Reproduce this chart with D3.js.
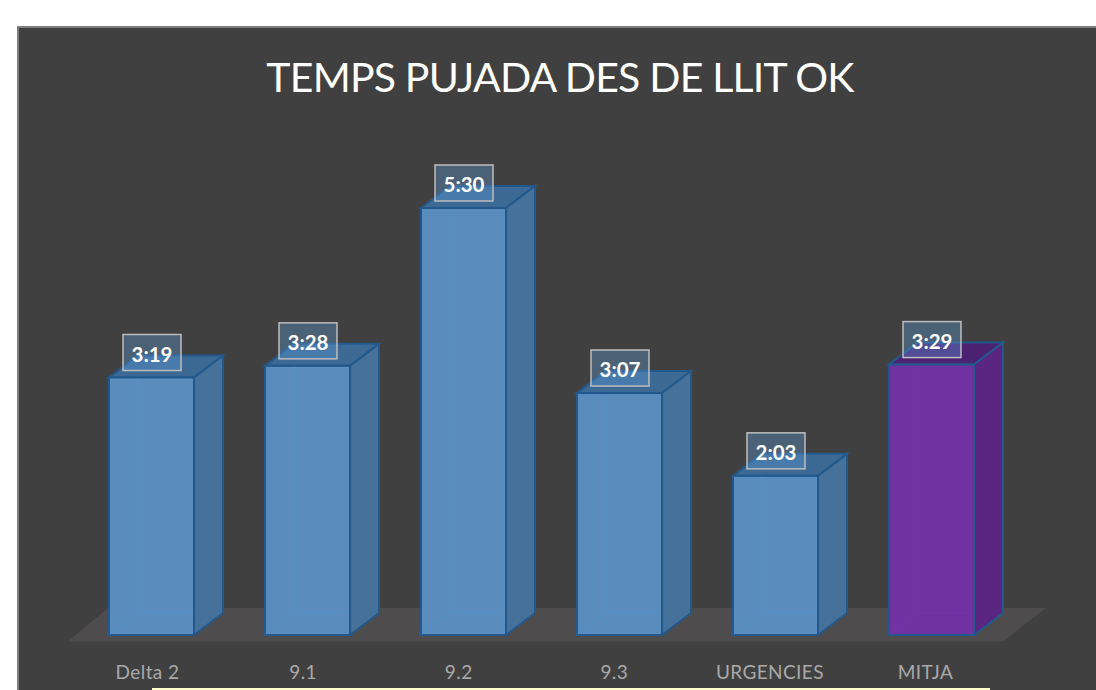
<!DOCTYPE html>
<html><head><meta charset="utf-8">
<script src="https://cdn.jsdelivr.net/npm/d3@7"></script>
<style>html,body{margin:0;padding:0;background:#fff;overflow:hidden}svg{display:block}text{font-family:Lato,"Open Sans",sans-serif}</style>
</head><body><svg id="c" width="1096" height="690"></svg>
<script>
const categories = ["Delta 2","9.1","9.2","9.3","URGENCIES","MITJA"];
const labels = ["3:19","3:28","5:30","3:07","2:03","3:29"];
const seconds = [199,208,330,187,123,209];
const title = "TEMPS PUJADA DES DE LLIT OK";

const blue = {front:"#5a8cbe",side:"#45719a",top:"#3d6a94",inner:"#5490c6"};
const purple = {front:"#7030a0",side:"#5a2782",top:"#4c2272",inner:"#7434a6"};
const svg = d3.select("#c");
const dx = 29, dy = 22, base = 635;

svg.append("rect").attr("x",18).attr("y",27).attr("width",1090).attr("height",675)
  .attr("fill","#404040").attr("stroke","#7f7f7f").attr("stroke-width",2);

const x = d3.scaleBand().domain(categories).range([109,974]).paddingInner(0.4551).paddingOuter(0);
const y = d3.scaleLinear().domain([0,330]).range([base,208]);
const bw = x.bandwidth();
const first = x(categories[0]), last = x(categories[5]) + bw;

svg.append("path").attr("fill","#4e4c4c")
  .attr("d",`M${first-41},${base+6.5}L${last+29},${base+6.5}L${last+72},${base-27}L${first-1},${base-27}Z`);

const defs = svg.append("defs");
const blur = defs.append("filter").attr("id","soft").attr("x","-20%").attr("y","-20%").attr("width","140%").attr("height","140%");
blur.append("feGaussianBlur").attr("stdDeviation",0.7);

const g = svg.selectAll("g.bar").data(categories).join("g").attr("class","bar")
  .attr("filter","url(#soft)");
g.each(function(c,i){
  const s = i===5 ? purple : blue;
  const sel = d3.select(this), l = x(c), r = l+bw, t = y(seconds[i]);
  const edge = "#23598c";
  sel.append("path").attr("d",`M${l},${t}L${l+dx},${t-dy}L${r+dx},${t-dy}L${r},${t}Z`)
    .attr("fill",s.top).attr("stroke",edge).attr("stroke-width",2);
  sel.append("path").attr("d",`M${r},${t}L${r+dx},${t-dy}L${r+dx},${base-dy}L${r},${base}Z`)
    .attr("fill",s.side).attr("stroke",edge).attr("stroke-width",2);
  sel.append("rect").attr("x",l).attr("y",t).attr("width",bw).attr("height",base-t)
    .attr("fill",s.front).attr("stroke",edge).attr("stroke-width",2);
  sel.append("path").attr("d",`M${l+1},${base-1}L${l+dx},${base-dy}L${r-1},${base-dy}M${l+dx},${base-dy}L${l+dx},${t+1}`)
    .attr("fill","none").attr("stroke",s.inner).attr("stroke-width",1.5);
});

const lab = svg.selectAll("g.lab").data(categories).join("g").attr("class","lab")
  .attr("transform",(c,i)=>`translate(${x(c)+bw/2+0.5},${y(seconds[i])-7})`);
lab.append("rect").attr("x",-29).attr("y",-36).attr("width",58).attr("height",36)
  .attr("fill","#5b9bd5").attr("fill-opacity",0.36).attr("stroke","#bdbdbd").attr("stroke-width",1.5);
lab.append("text").attr("y",-9).attr("text-anchor","middle").attr("fill","#fff")
  .attr("font-size",20.5).attr("font-weight",700).text((c,i)=>labels[i]);

svg.append("text").attr("x",560).attr("y",92).attr("text-anchor","middle")
  .attr("fill","#fff").attr("font-size",41)
  .style("letter-spacing","-0.8px").text(title);

const axis = d3.axisBottom(d3.scalePoint().domain(categories).range([147,925])).tickSize(0).tickPadding(0);
const ax = svg.append("g").attr("transform","translate(0,663.3)").call(axis);
ax.select(".domain").remove();
ax.selectAll("text").attr("fill","#a9a9a9").attr("font-size",19).attr("dy","0.8em")
  .style("font-family","Lato,sans-serif").style("letter-spacing","0.4px");

svg.append("rect").attr("x",152).attr("y",688).attr("width",838).attr("height",4).attr("fill","#ffffcc");
</script></body></html>
